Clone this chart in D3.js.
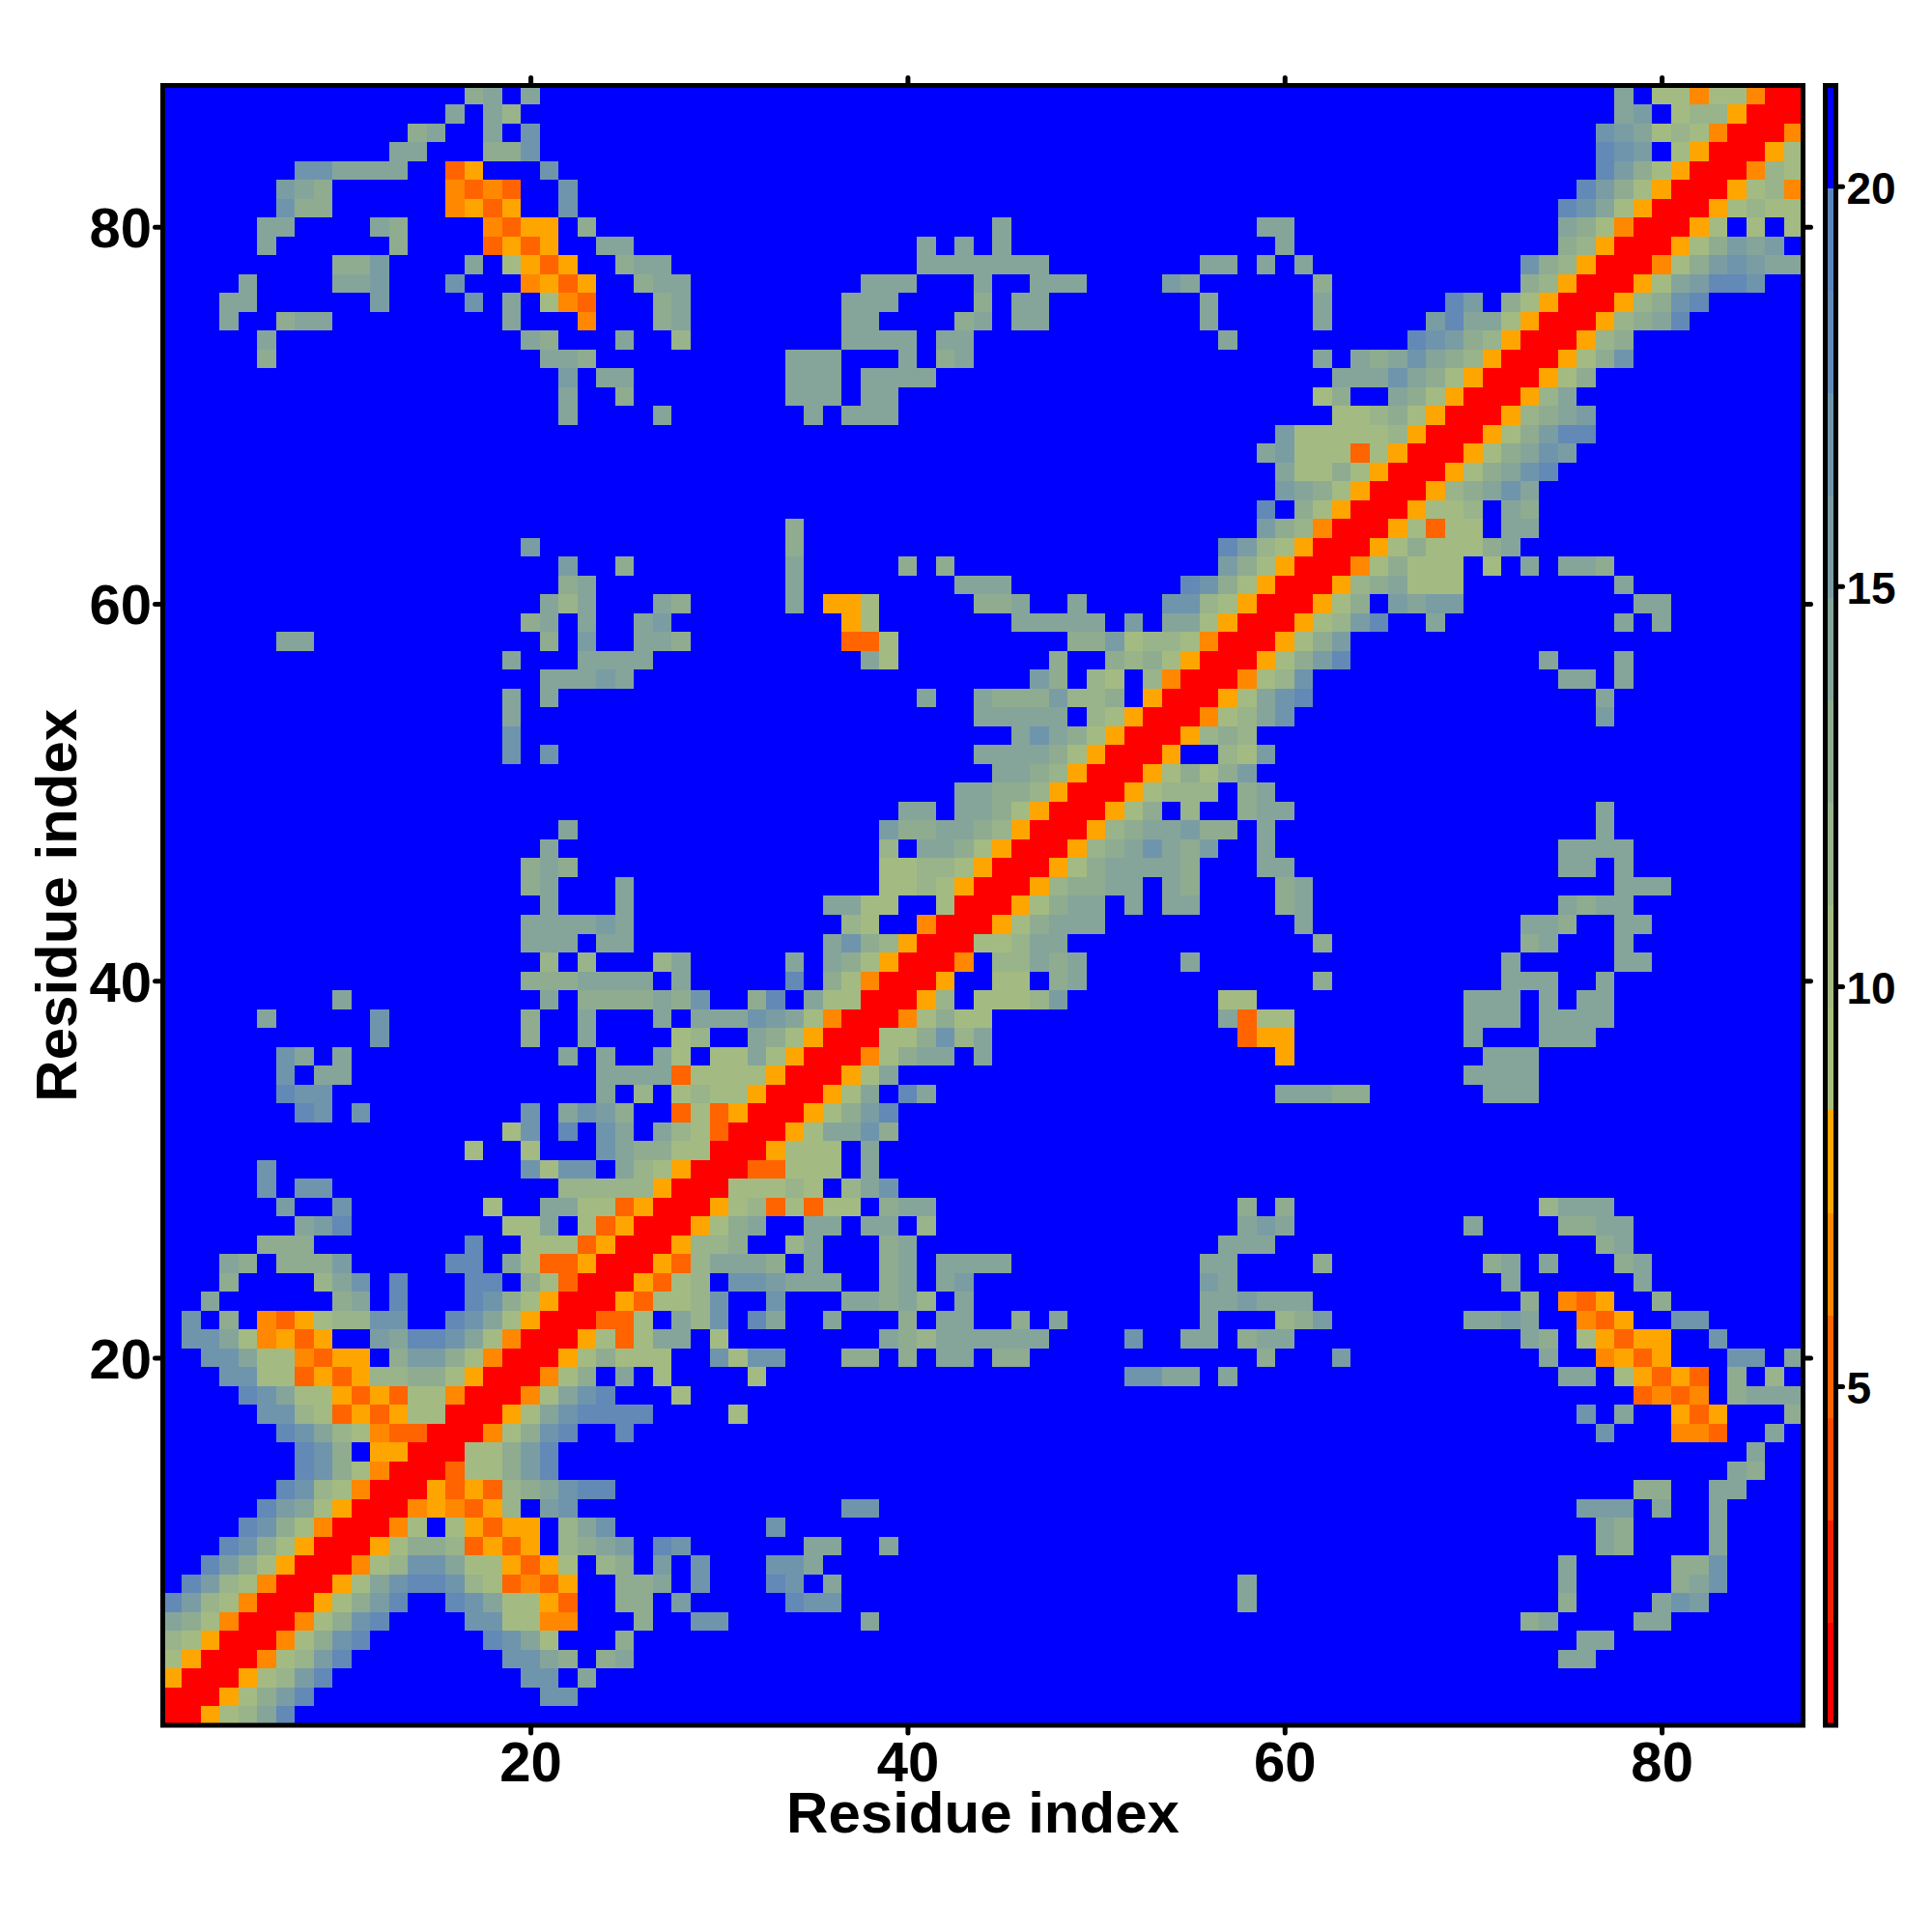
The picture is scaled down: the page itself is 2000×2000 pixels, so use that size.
<!DOCTYPE html>
<html><head><meta charset="utf-8">
<script src="https://cdn.jsdelivr.net/npm/d3@7"></script>
<style>html,body{margin:0;padding:0;background:#fff}svg{display:block}text{font-family:"Liberation Sans",Arial,sans-serif;font-weight:700;fill:#000}</style>
</head><body><svg id="c" width="2000" height="2000"></svg>
<script>
const residueCount = 87;
const axisTicks = [20, 40, 60, 80];
const colorbarTicks = [5, 10, 15, 20];
const axisTitle = "Residue index";
const valueDomain = [0.76, 21.26];
const levelColors = ["#ff0000","#f52000","#ff4800","#ff6400","#ff8800","#ffa500","#a8be7e","#a3bb82","#99b38a","#8fac91","#85a59a","#7a9da4","#6f95ad","#6389b6","#5a84bc","#0000ff"];
// Upper triangle of the symmetric map, one entry per row: "startColumn:levels" (hex colour-bar level per cell, f = background).
const rowSegments = [
"1:00578ad",
"2:00579bd 21:cc",
"3:00578bd 20:ccfa",
"4:00478bd 19:cca9f9a 75:aa",
"5:00479cd 18:dca7fff9 76:aa",
"6:00479cd 17:cc7744fff9ffcc 38:a 73:9a 79:aa",
"7:00579bd 16:dca7753ff99fb 34:dcc 58:a 75:9 80:acb",
"8:0057acddc873435ff99afc 33:dcfa 58:a 75:a 81:9ac",
"9:00478cca775357f89fbfc 33:cca 75:a 81:99c",
"10:00579983535f89abfdc 35:aaffa 77:a9 83:a",
"11:0047f75355f8ac 33:c 77:a9 83:a",
"12:00454358fbc 37:cc 76:bbb 80:a 83:a",
"13:00535389acdd 79:99 83:aa",
"14:003779bd 84:a9",
"15:00779bd 85:a",
"16:00479cdffd 77:c 81:443 86:a",
"17:0057acdddd 31:7 76:c 78:a 81:535 87:9",
"18:0047acdfff7 79:3434 84:9aaa",
"19:00479faf7 32:7 52:ccaafa 75:aaf75353 84:9f8",
"20:00579777ffc7ccfff99f9faaf99 59:9 63:b 74:a 77:4535 84:cc 87:a",
"21:005737aaf7 39:a98aaaaaa 52:c 55:aaf9aa 73:a9f75355 83:c",
"22:00337fa8cfdaffafff9faaff9fa 56:a 60:89b 70:aabaff435 81:cc",
"23:0053778cffcfffaa9a8fa 56:aabaaa 73:9f435 80:9",
"24:005378fccbaaaff9afab 56:ba 72:a 79:a",
"25:00538aaa9fafff9afaaaa 56:aa 62:9 71:9a 74:a 78:9a",
"26:005889ff8afff9a 57:aaa 77:9a",
"27:00579affaafaaf8 58:aba 70:a 75:99aa",
"28:0057837377f9aa 58:9f9 74:8aaa",
"29:0077787f8ac",
"30:0033777fa",
"31:005777fa",
"32:0057aac9",
"33:00579bd",
"34:0057afda 60:aaa99 71:aaa",
"35:0057a 70:aaaa",
"36:00479aafa 60:5 71:aaa",
"37:00779c8a 58:355 70:a 74:aaa",
"38:0047977 57:a377 70:aaa 74:aaaa",
"39:0058f7778b 57:77 70:aaa 74:a 76:aa",
"40:005ff77f9a 62:9 72:aaa 77:a",
"41:004f88a9a 55:a 72:a 78:aa",
"42:00778aa 62:9 73:9a 78:a",
"43:00579aaa 61:a 73:aa9 78:aa",
"44:00579aafafaa 60:9a 75:a9aa",
"45:005899aafa9 60:9a 78:aaa",
"46:00579aaaa9 59:aa 75:aa 78:a",
"47:00589aca9b 59:a 75:aaaa",
"48:00589aab99 59:a 77:a",
"49:00579f8ff9aa 77:a",
"50:0057888f9a",
"51:0057979b",
"52:005ff87b",
"53:005898",
"54:00478ac 77:b",
"55:0057acd 77:a",
"56:00478c 75:aa 78:a",
"57:00579bd 74:a 78:a",
"58:00579b",
"59:00578bd 68:a 78:a 80:a",
"60:00579fbabb 79:aa",
"61:00589a777 78:a",
"62:00479777f7fafaa9",
"63:005797779a",
"64:0057377faa",
"65:005778fa9",
"66:00589aca",
"67:00579acd",
"68:00579acb",
"69:00579bdd",
"70:00589ab",
"71:0058a",
"72:00579",
"73:00579c",
"74:00589",
"75:00589ad",
"76:00589cd",
"77:0057abddc",
"78:00479bcbaa",
"79:00579babf",
"80:0057f7f7",
"81:0057877",
"82:005784",
"83:00487",
"84:0057",
"85:004",
"86:00",
"87:0"
];

const levelStep = (valueDomain[1] - valueDomain[0]) / levelColors.length;
const levelValue = l => valueDomain[0] + (l + 0.5) * levelStep;
const color = d3.scaleQuantize().domain(valueDomain).range(levelColors);

const cells = new Map();
rowSegments.forEach((row, i) => {
  row.split(" ").forEach(seg => {
    const [start, levels] = seg.split(":");
    [...levels].forEach((ch, k) => {
      const col = +start + k, v = levelValue(parseInt(ch, 16));
      cells.set(`${col},${i + 1}`, v);
      cells.set(`${i + 1},${col}`, v);
    });
  });
});
const indices = d3.range(1, residueCount + 1);
const grid = d3.cross(indices, indices).map(([c, r]) => ({c, r, v: cells.has(`${c},${r}`) ? cells.get(`${c},${r}`) : levelValue(15)}));

const svg = d3.select("#c");
const L = 168.5, R = 1866.5, T = 88.5, B = 1786;
const x = d3.scaleLinear().domain([0.5, residueCount + 0.5]).range([L, R]);
const y = d3.scaleLinear().domain([0.5, residueCount + 0.5]).range([B, T]);

svg.append("g").attr("shape-rendering", "crispEdges").selectAll("rect").data(grid).join("rect")
  .attr("x", d => x(d.c - 0.5)).attr("y", d => y(d.r + 0.5))
  .attr("width", d => x(d.c + 0.5) - x(d.c - 0.5)).attr("height", d => y(d.r - 0.5) - y(d.r + 0.5))
  .attr("fill", d => color(d.v));

function styleAxis(g, size, dy) {
  g.select(".domain").remove();
  g.selectAll("line").attr("stroke", "#000").attr("stroke-width", 5).attr("stroke-linecap", "round");
  g.selectAll("text").attr("font-size", size).attr("font-family", '"Liberation Sans"').attr("font-weight", 700).attr("fill", "#000");
  if (dy) g.selectAll("text").attr("dy", dy);
}
const tl = 8;
svg.append("g").attr("transform", `translate(0,${B})`)
  .call(d3.axisBottom(x).tickValues(axisTicks).tickSize(tl).tickPadding(9).tickFormat(d3.format("d")))
  .call(g => styleAxis(g, 58));
svg.append("g").attr("transform", `translate(${L},0)`)
  .call(d3.axisLeft(y).tickValues(axisTicks).tickSize(tl).tickPadding(3.5).tickFormat(d3.format("d")))
  .call(g => styleAxis(g, 58, "0.36em"));
svg.append("g").attr("transform", `translate(0,${T})`)
  .call(d3.axisTop(x).tickValues(axisTicks).tickSize(tl).tickFormat(""))
  .call(g => styleAxis(g, 58));
svg.append("g").attr("transform", `translate(${R},0)`)
  .call(d3.axisRight(y).tickValues(axisTicks).tickSize(tl).tickFormat(""))
  .call(g => styleAxis(g, 58));
svg.append("rect").attr("x", L).attr("y", T).attr("width", R - L).attr("height", B - T)
  .attr("fill", "none").attr("stroke", "#000").attr("stroke-width", 5);

svg.append("text").attr("x", (L + R) / 2).attr("y", 1897).attr("text-anchor", "middle").attr("font-size", 60).text(axisTitle);
svg.append("text").attr("transform", `translate(79,${(T + B) / 2}) rotate(-90)`).attr("text-anchor", "middle").attr("font-size", 60).text(axisTitle);

// colour bar
const cbL = 1889.5, cbR = 1900.5;
const cy = d3.scaleLinear().domain(valueDomain).range([B, T]);
svg.append("g").attr("shape-rendering", "crispEdges").selectAll("rect").data(levelColors).join("rect")
  .attr("x", cbL).attr("width", cbR - cbL)
  .attr("y", (d, i) => cy(valueDomain[0] + (i + 1) * levelStep))
  .attr("height", (d, i) => cy(valueDomain[0] + i * levelStep) - cy(valueDomain[0] + (i + 1) * levelStep))
  .attr("fill", d => d);
svg.append("rect").attr("x", cbL).attr("y", T).attr("width", cbR - cbL).attr("height", B - T)
  .attr("fill", "none").attr("stroke", "#000").attr("stroke-width", 5);
svg.append("g").attr("transform", `translate(${cbR},0)`)
  .call(d3.axisRight(cy).tickValues(colorbarTicks).tickSize(7).tickPadding(4).tickFormat(d3.format("d")))
  .call(g => styleAxis(g, 46, "0.38em"));
</script></body></html>
